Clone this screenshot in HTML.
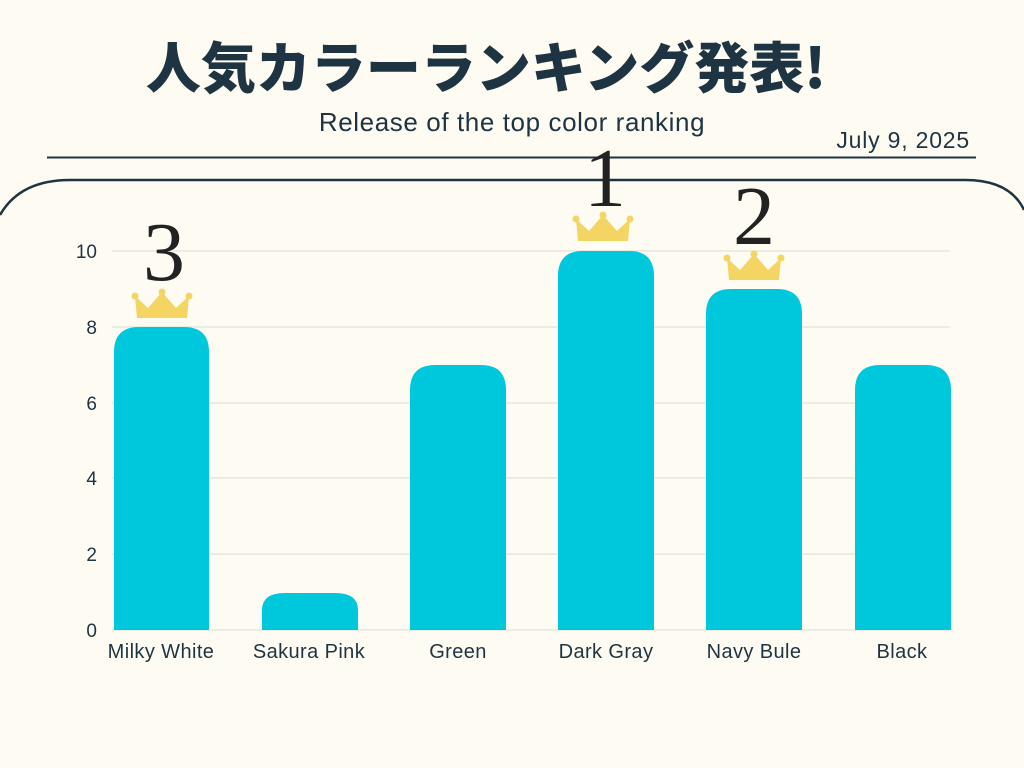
<!DOCTYPE html>
<html><head><meta charset="utf-8"><style>
body{margin:0;width:1024px;height:768px;background:#fdfbf2;overflow:hidden;position:relative;font-family:"Liberation Sans","Noto Sans CJK JP",sans-serif;color:#1e3442}
</style></head><body>
<svg width="1024" height="768" style="position:absolute;left:0;top:0">
<text x="486" y="88" text-anchor="middle" font-family="'Noto Sans CJK JP',sans-serif" font-weight="900" font-size="55" fill="#1e3442">人気カラーランキング発表!</text>
<text x="512" y="131" text-anchor="middle" font-size="26" letter-spacing="0.6" fill="#1e3442">Release of the top color ranking</text>
<text x="970" y="148" text-anchor="end" font-size="23" letter-spacing="0.8" fill="#1e3442">July 9, 2025</text>
<line x1="47" y1="157.5" x2="976" y2="157.5" stroke="#1e3442" stroke-width="2"/>
<path d="M0,215 Q20,180 70,180 L965,180 Q1010,180 1024,210" fill="none" stroke="#1e3442" stroke-width="2.5"/>
<g stroke="#dcdcd4" stroke-width="1">
<line x1="112" y1="251" x2="950" y2="251"/><line x1="112" y1="327" x2="950" y2="327"/><line x1="112" y1="403" x2="950" y2="403"/><line x1="112" y1="478" x2="950" y2="478"/><line x1="112" y1="554" x2="950" y2="554"/><line x1="112" y1="630" x2="950" y2="630"/>
</g>
<g font-size="19" fill="#1e3442" text-anchor="end">
<text x="97" y="258">10</text><text x="97" y="334">8</text><text x="97" y="410">6</text><text x="97" y="485">4</text><text x="97" y="561">2</text><text x="97" y="637">0</text>
</g>
<g fill="#00c8dc">
<path d="M114,630 V352 Q114,327 139,327 H184 Q209,327 209,352 V630Z"/>
<path d="M262,630 V610 Q262,593 285,593 H335 Q358,593 358,610 V630Z"/>
<path d="M410,630 V390 Q410,365 435,365 H481 Q506,365 506,390 V630Z"/>
<path d="M558,630 V276 Q558,251 583,251 H629 Q654,251 654,276 V630Z"/>
<path d="M706,630 V314 Q706,289 731,289 H777 Q802,289 802,314 V630Z"/>
<path d="M855,630 V390 Q855,365 880,365 H926 Q951,365 951,390 V630Z"/>
</g>
<g font-size="20" letter-spacing="0.4" fill="#1e3442" text-anchor="middle">
<text x="161" y="658">Milky White</text><text x="309" y="658">Sakura Pink</text><text x="458" y="658">Green</text><text x="606" y="658">Dark Gray</text><text x="754" y="658">Navy Bule</text><text x="902" y="658">Black</text>
</g>
<defs><g id="cr"><path d="M-25,-2 L-27,-24 L-14,-12 L0,-28 L14,-12 L27,-24 L25,-2 Z" fill="#f4d462"/>
<circle cx="-27" cy="-24" r="3.5" fill="#f4d462"/><circle cx="0" cy="-28" r="3.5" fill="#f4d462"/><circle cx="27" cy="-24" r="3.5" fill="#f4d462"/></g></defs>
<use href="#cr" x="162" y="320"/><use href="#cr" x="603" y="243"/><use href="#cr" x="754" y="282"/>
<g font-family="'Liberation Serif',serif" font-size="84" fill="#222" text-anchor="middle">
<text x="164" y="280">3</text><text x="605" y="206">1</text><text x="754" y="244">2</text>
</g>
</svg>
</body></html>
